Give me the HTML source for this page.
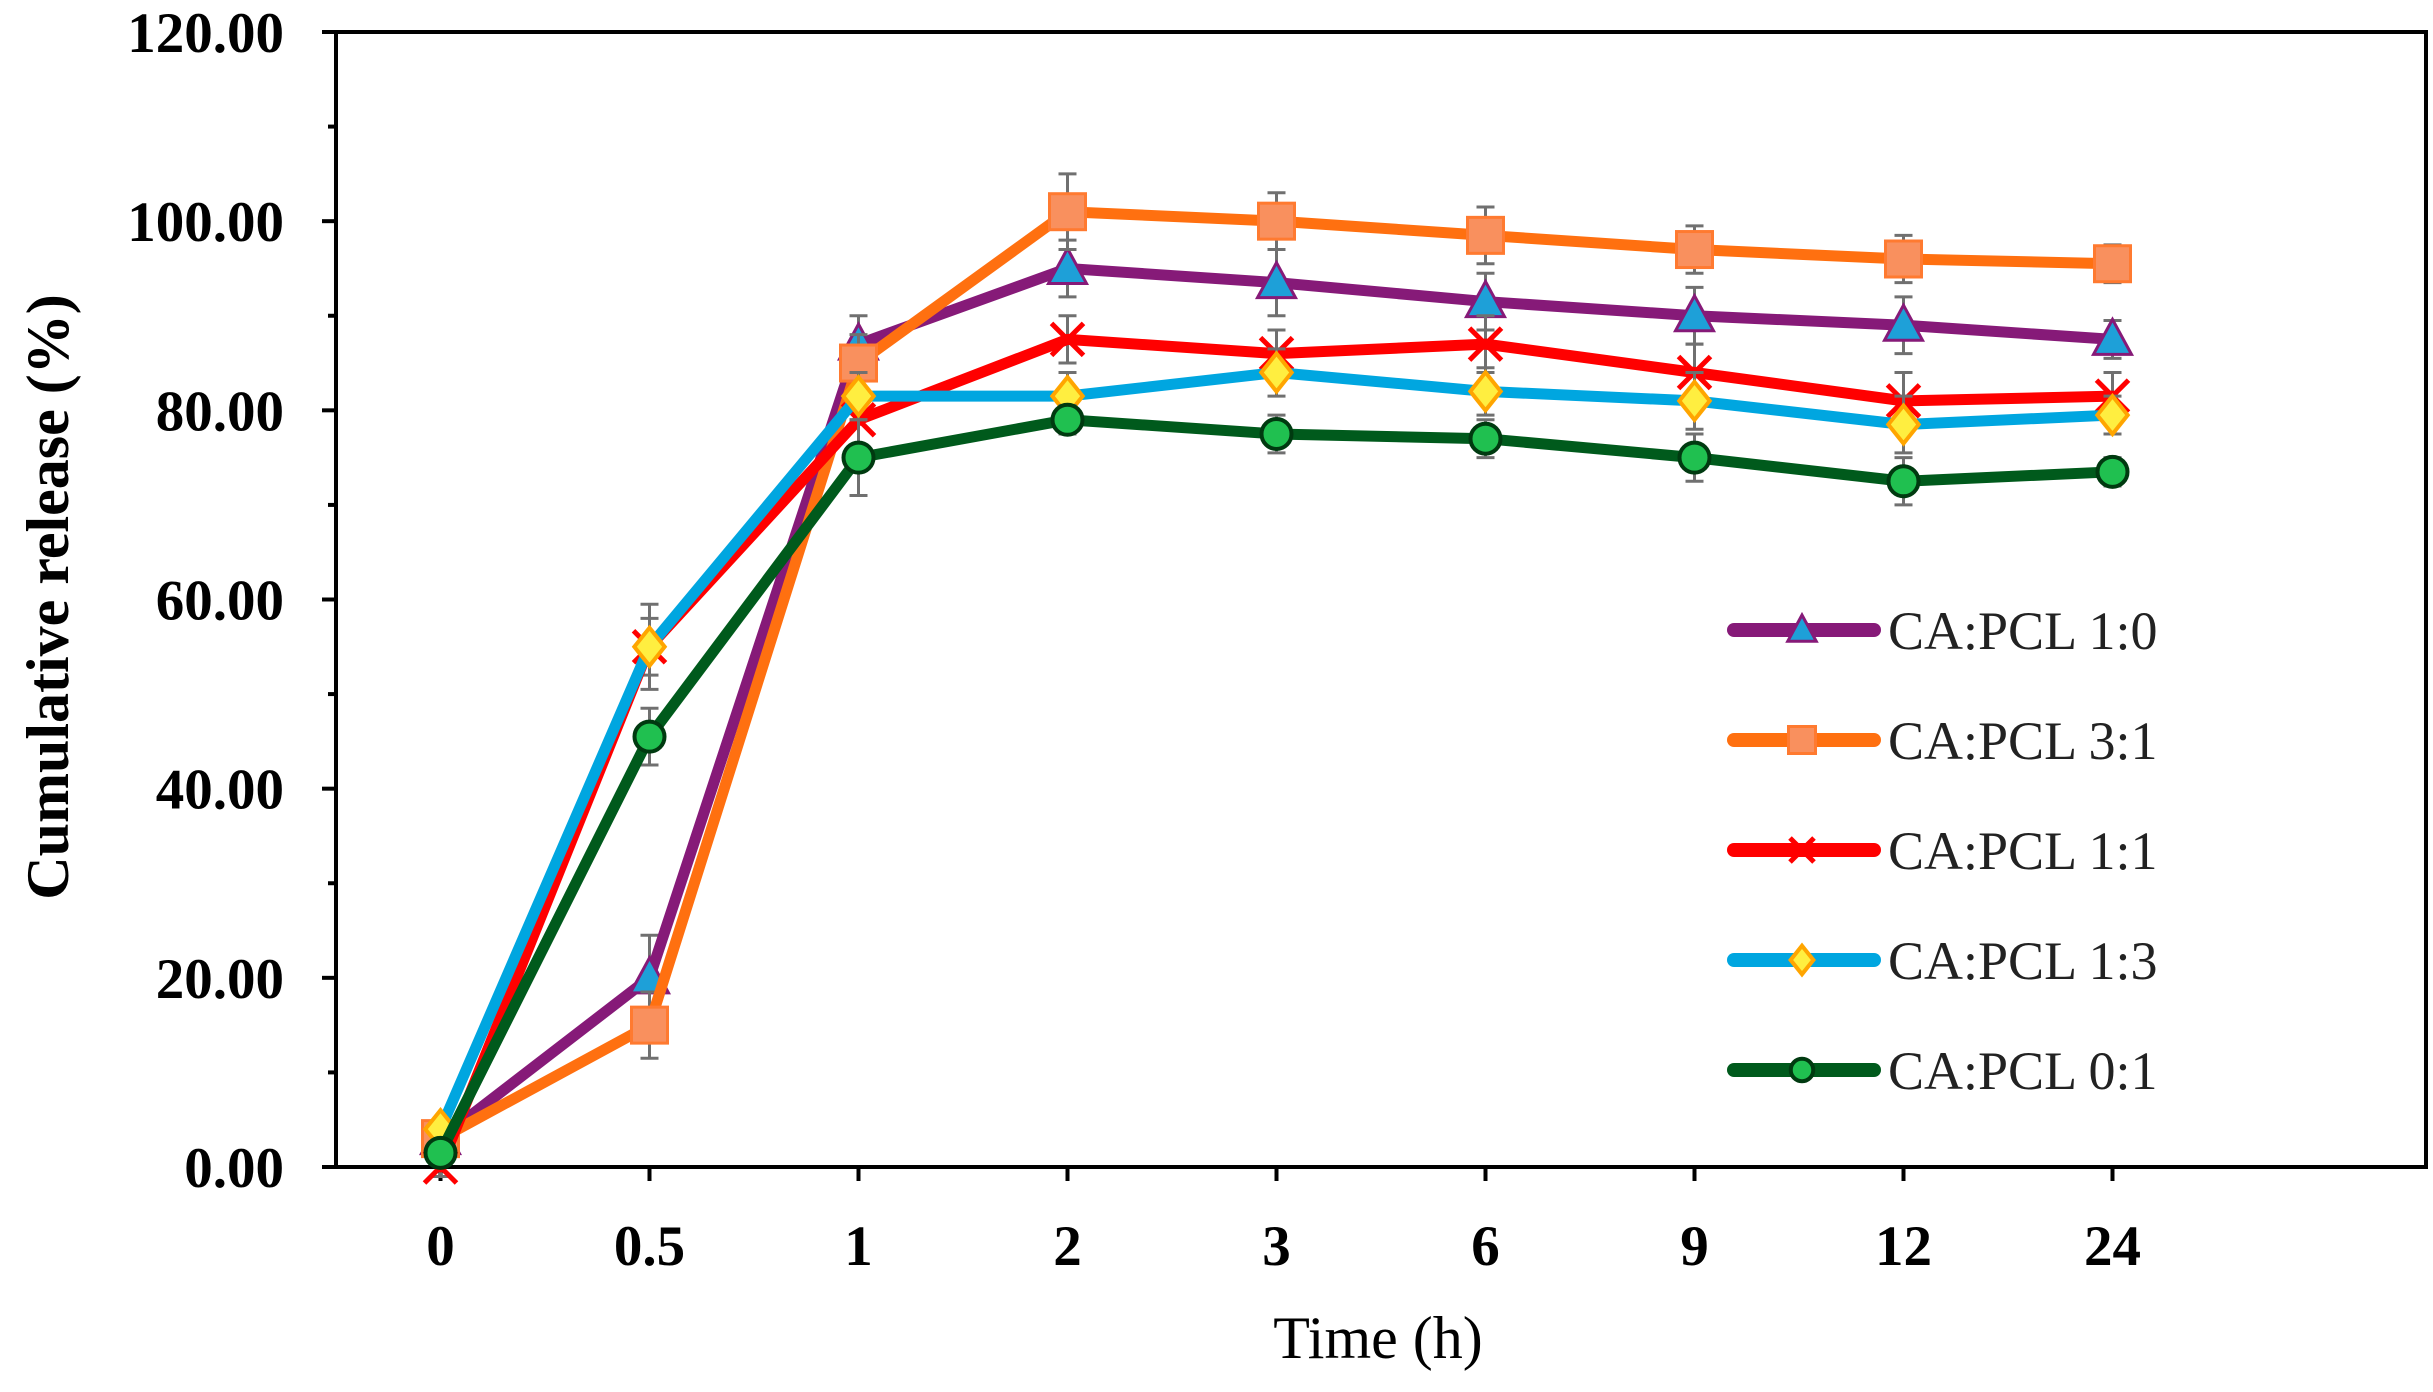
<!DOCTYPE html>
<html><head><meta charset="utf-8"><style>
html,body{margin:0;padding:0;background:#fff;}
svg{display:block;}
</style></head><body>
<svg id="chart" width="2433" height="1392" xmlns="http://www.w3.org/2000/svg">
<g id="axes"></g>
<g id="series"></g>
<g id="legend"></g>
</svg>
<script>
const categories = ["0","0.5","1","2","3","6","9","12","24"];
const yTicks = [0,20,40,60,80,100,120];
const yTickLabels = ["0.00","20.00","40.00","60.00","80.00","100.00","120.00"];
const seriesNames = ["CA:PCL 1:0","CA:PCL 3:1","CA:PCL 1:1","CA:PCL 1:3","CA:PCL 0:1"];
const s10 = [3, 20, 87, 95, 93.5, 91.5, 90, 89, 87.5];
const s31 = [3, 15, 85, 101, 100, 98.5, 97, 96, 95.5];
const s11 = [0, 55, 79, 87.5, 86, 87, 84, 81, 81.5];
const s13 = [4, 55, 81.5, 81.5, 84, 82, 81, 78.5, 79.5];
const s01 = [1.5, 45.5, 75, 79, 77.5, 77, 75, 72.5, 73.5];
const e10 = [1, 4.5, 3, 3, 3.5, 3, 3, 3, 2];
const e31 = [1, 3.5, 3, 4, 3, 3, 2.5, 2.5, 2];
const e11 = [1, 3, 3, 2.5, 2.5, 3, 3, 3, 2.5];
const e13 = [1, 4.5, 2.5, 2.5, 2.5, 2.5, 3, 3, 2];
const e01 = [1, 3, 4, 1.5, 2, 2, 2.5, 2.5, 1.5];

const NS="http://www.w3.org/2000/svg";
const X0=336, SLOT=209, NSLOT=10, YT=32, YB=1167, YMAX=120;
function xPos(i){return X0+SLOT*(i+0.5);}
function yPos(v){return YB-(v/YMAX)*(YB-YT);}
function mk(tag,attrs,parent){const e=document.createElementNS(NS,tag);for(const k in attrs)e.setAttribute(k,attrs[k]);parent.appendChild(e);return e;}

const axes=document.getElementById('axes');
const frame=mk('rect',{x:X0,y:YT,width:SLOT*NSLOT,height:YB-YT,fill:'none',stroke:'#000','stroke-width':4},axes);


yTicks.forEach((t,i)=>{
  const y=yPos(t);
  const tk=mk('line',{x1:X0-14,x2:X0,y1:y,y2:y,stroke:'#000','stroke-width':4},axes);
  
  
  if(i<yTicks.length-1){
    const ym=yPos(t+10);
    const mt=mk('line',{x1:X0-8,x2:X0,y1:ym,y2:ym,stroke:'#000','stroke-width':4},axes);
    
    
  }
  const lb=mk('text',{x:284,y:y+20,'text-anchor':'end','font-family':'Liberation Serif, serif','font-weight':'bold','font-size':57,fill:'#000'},axes);
  lb.textContent=yTickLabels[i];
  
  
});
categories.forEach((c,i)=>{
  const x=xPos(i);
  const tk=mk('line',{x1:x,x2:x,y1:YB,y2:YB+14,stroke:'#000','stroke-width':4},axes);
  
  
  const lb=mk('text',{x:x,y:1265,'text-anchor':'middle','font-family':'Liberation Serif, serif','font-weight':'bold','font-size':57,fill:'#000'},axes);
  lb.textContent=c;
  
  
});
const xt=mk('text',{x:1378,y:1358,'text-anchor':'middle','font-family':'Liberation Serif, serif','font-size':60,fill:'#000'},axes);
xt.textContent='Time (h)';


const yt=mk('text',{x:0,y:0,'text-anchor':'middle','font-family':'Liberation Serif, serif','font-weight':'bold','font-size':60,fill:'#000',transform:'translate(68,597) rotate(-90)'},axes);
yt.textContent='Cumulative release (%)';



const seriesData=[s10,s31,s11,s13,s01];
const errData=[e10,e31,e11,e13,e01];
const lineColors=['#861a78','#ff7010','#ff0000','#00a6e0','#005a1c'];
const markerKinds=['triangle','square','cross','diamond','circle'];
const keys=['series-1-0','series-3-1','series-1-1','series-1-3','series-0-1'];

function marker(g,kind,x,y,scale){
  let m;
  const s=scale||1;
  if(kind==='triangle'){
    const r=20*s;
    m=mk('polygon',{points:`${x},${y-r} ${x-r*0.95},${y+r*0.75} ${x+r*0.95},${y+r*0.75}`,fill:'#1ea0d8',stroke:'#861a78','stroke-width':3},g);
  }else if(kind==='square'){
    const r=18*s;
    m=mk('rect',{x:x-r,y:y-r,width:2*r,height:2*r,fill:'#f9905e',stroke:'#ff7a30','stroke-width':3},g);
  }else if(kind==='cross'){
    const r=16*s;
    m=mk('path',{d:`M${x-r},${y-r}L${x+r},${y+r}M${x-r},${y+r}L${x+r},${y-r}`,stroke:'#ff0000','stroke-width':5,fill:'none'},g);
  }else if(kind==='diamond'){
    const r=19*s;
    m=mk('polygon',{points:`${x},${y-r} ${x+r*0.8},${y} ${x},${y+r} ${x-r*0.8},${y}`,fill:'#ffee40',stroke:'#ffa500','stroke-width':4},g);
  }else{
    const r=15*s;
    m=mk('circle',{cx:x,cy:y,r:r,fill:'#20c050',stroke:'#003a10','stroke-width':4},g);
  }
  return m;
}

const sl=document.getElementById('series');
seriesData.forEach((arr,si)=>{
  const g=mk('g',{},sl);
  
  
  arr.forEach((v,i)=>{
    const x=xPos(i), e=errData[si][i];
    const eb=mk('path',{d:`M${x},${yPos(v-e)}L${x},${yPos(v+e)}M${x-9},${yPos(v-e)}L${x+9},${yPos(v-e)}M${x-9},${yPos(v+e)}L${x+9},${yPos(v+e)}`,stroke:'#707070','stroke-width':3,fill:'none'},g);
    
    
  });
  const pts=arr.map((v,i)=>xPos(i)+','+yPos(v)).join(' ');
  const ln=mk('polyline',{points:pts,fill:'none',stroke:lineColors[si],'stroke-width':11,'stroke-linejoin':'round','stroke-linecap':'round'},g);
  
  
  arr.forEach((v,i)=>{
    const m=marker(g,markerKinds[si],xPos(i),yPos(v));
    
    
  });
});

const lg=document.getElementById('legend');
seriesNames.forEach((n,si)=>{
  const y=630+110*si;
  const g=mk('g',{},lg);
  
  
  const l=mk('line',{x1:1734,x2:1874,y1:y,y2:y,stroke:lineColors[si],'stroke-width':14,'stroke-linecap':'round'},g);
  
  
  const m=marker(g,markerKinds[si],1802,y,0.75);
  
  
  const t=mk('text',{x:1888,y:y+19,'font-family':'Liberation Serif, serif','font-size':54,fill:'#222'},g);
  t.textContent=n;
  
  
});
</script>
</body></html>
